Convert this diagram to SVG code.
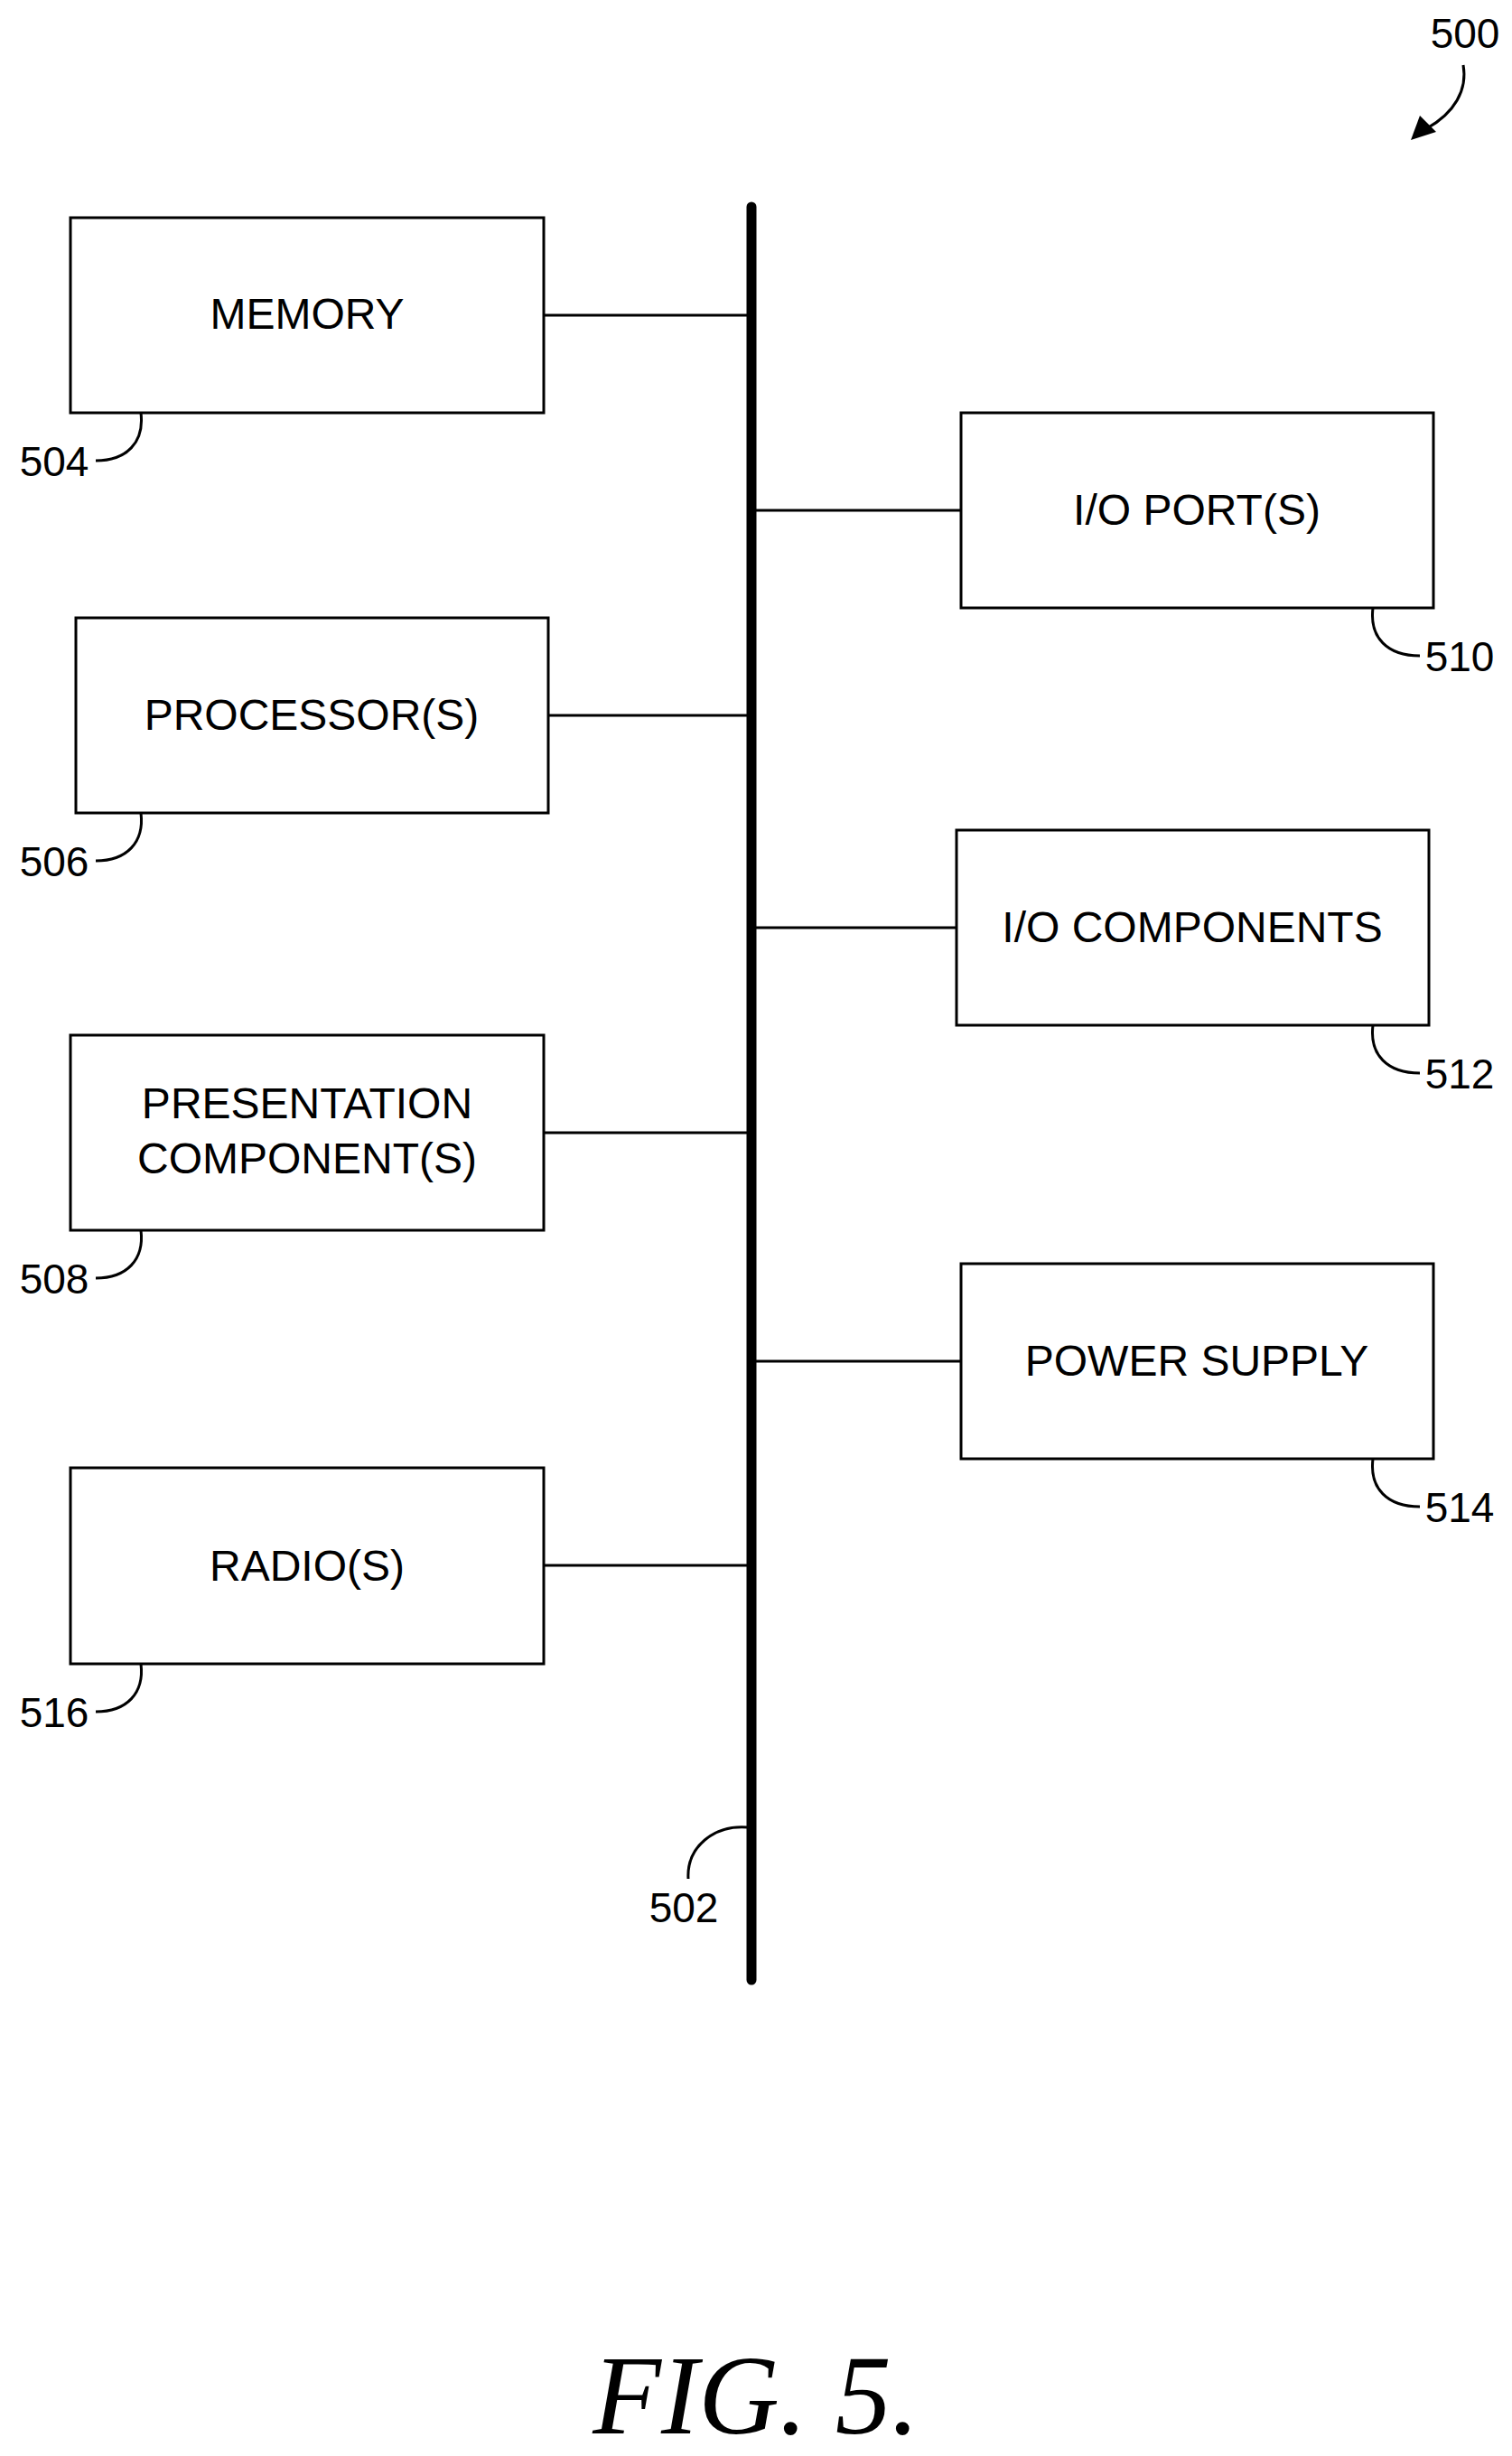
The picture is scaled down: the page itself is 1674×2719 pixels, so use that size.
<svg xmlns="http://www.w3.org/2000/svg" width="1674" height="2719" viewBox="0 0 1674 2719">
<style>
.box{fill:#fff;stroke:#000;stroke-width:3}
.t{font-family:"Liberation Sans",Arial,sans-serif;font-size:48px;text-anchor:middle}
.n{font-family:"Liberation Sans",Arial,sans-serif;font-size:46px;text-anchor:middle}
.c{fill:none;stroke:#000;stroke-width:3}
</style>
<rect width="1674" height="2719" fill="#fff"/>
<g id="connectors">
<line x1="832" y1="229" x2="832" y2="2192" stroke="#000" stroke-width="11" stroke-linecap="round"/>
<line class="c" x1="602" y1="349" x2="832" y2="349"/>
<line class="c" x1="607" y1="792" x2="832" y2="792"/>
<line class="c" x1="602" y1="1254" x2="832" y2="1254"/>
<line class="c" x1="602" y1="1733" x2="832" y2="1733"/>
<line class="c" x1="832" y1="565" x2="1064" y2="565"/>
<line class="c" x1="832" y1="1027" x2="1059" y2="1027"/>
<line class="c" x1="832" y1="1507" x2="1064" y2="1507"/>
</g>
<g id="n504"><rect class="box" x="78" y="241" width="524" height="216"/><text class="t" x="340" y="364">MEMORY</text>
<path class="c" d="M156 457 C160 490 140 510 106 510"/><text class="n" x="60" y="527">504</text></g>
<g id="n506"><rect class="box" x="84" y="684" width="523" height="216"/><text class="t" x="345" y="808">PROCESSOR(S)</text>
<path class="c" d="M156 900 C160 933 140 953 106 953"/><text class="n" x="60" y="970">506</text></g>
<g id="n508"><rect class="box" x="78" y="1146" width="524" height="216"/><text class="t" x="340" y="1238">PRESENTATION</text><text class="t" x="340" y="1299">COMPONENT(S)</text>
<path class="c" d="M156 1362 C160 1395 140 1415 106 1415"/><text class="n" x="60" y="1432">508</text></g>
<g id="n516"><rect class="box" x="78" y="1625" width="524" height="217"/><text class="t" x="340" y="1750">RADIO(S)</text>
<path class="c" d="M156 1842 C160 1875 140 1895 106 1895"/><text class="n" x="60" y="1912">516</text></g>
<g id="n510"><rect class="box" x="1064" y="457" width="523" height="216"/><text class="t" x="1325" y="581">I/O PORT(S)</text>
<path class="c" d="M1520 673 C1516 706 1536 726 1572 726"/><text class="n" x="1616" y="743">510</text></g>
<g id="n512"><rect class="box" x="1059" y="919" width="523" height="216"/><text class="t" x="1320" y="1043">I/O COMPONENTS</text>
<path class="c" d="M1520 1135 C1516 1168 1536 1188 1572 1188"/><text class="n" x="1616" y="1205">512</text></g>
<g id="n514"><rect class="box" x="1064" y="1399" width="523" height="216"/><text class="t" x="1325" y="1523">POWER SUPPLY</text>
<path class="c" d="M1520 1615 C1516 1648 1536 1668 1572 1668"/><text class="n" x="1616" y="1685">514</text></g>
<g id="n502"><path class="c" d="M828 2023 C790 2020 760 2045 762 2080"/><text class="n" x="757" y="2128">502</text></g>
<g id="n500"><text class="n" x="1622" y="53">500</text>
<path class="c" d="M1620 72 C1625 100 1610 125 1580 142"/>
<polygon points="1562,155 1572,128 1590,146"/></g>
<text x="837" y="2694" font-family="'Liberation Serif','Times New Roman',serif" font-style="italic" font-size="124" text-anchor="middle">FIG. 5.</text>
</svg>
